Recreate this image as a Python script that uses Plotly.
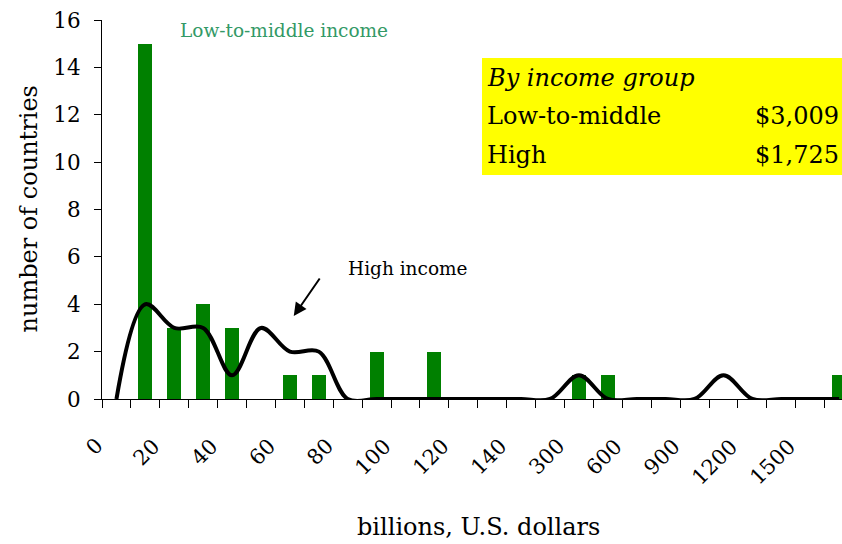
import plotly.graph_objects as go

# Bin boundary labels (every other bin boundary is labelled)
tick_labels = ["0", "20", "40", "60", "80", "100", "120", "140",
               "300", "600", "900", "1200", "1500"]
# Number of countries per bin (bins between consecutive tick marks)
low_mid_counts = [0, 15, 3, 4, 3, 0, 1, 1, 0, 2, 0, 2, 0, 0, 0, 0, 1, 1, 0, 0, 0, 0, 0, 0, 0, 1]
high_counts = [0, 4, 3, 3, 1, 3, 2, 2, 0, 0, 0, 0, 0, 0, 0, 0, 1, 0, 0, 0, 0, 1, 0, 0, 0, 0]
summary_labels = ["Low-to-middle", "High"]
summary_values = ["$3,009", "$1,725"]

n_bins = len(low_mid_counts)
bin_centers = [i + 0.5 for i in range(n_bins)]
tickvals = list(range(n_bins + 1))

FONT = "DejaVu Serif"
TICK = 21.5
XTICK = 21
BIG = 24
SMALL = 18.5

# plotting area in window pixels: x 102..842, y 20..399
PL, PT, PW, PH = 102, 20, 740, 379

def px(xw):
    return (xw - PL) / PW

def py(yw):
    return (PT + PH - yw) / PH

fig = go.Figure()
fig.add_trace(go.Bar(x=bin_centers, y=low_mid_counts, width=0.48,
                     marker=dict(color="#008000", line=dict(width=0)),
                     showlegend=False))
fig.add_trace(go.Scatter(x=bin_centers, y=high_counts, mode="lines",
                         line=dict(color="black", width=4, shape="spline", smoothing=1.0),
                         showlegend=False))

fig.update_layout(
    width=842, height=544,
    margin=dict(l=PL, r=842 - PL - PW, t=PT, b=544 - PT - PH, autoexpand=False),
    paper_bgcolor="white", plot_bgcolor="white",
    font=dict(family=FONT, color="black", size=BIG),
    bargap=0,
    xaxis=dict(range=[0, 25.6], tickvals=tickvals, ticktext=[""] * len(tickvals),
               ticks="outside", ticklen=8, tickcolor="black",
               showline=True, linecolor="black", linewidth=1, automargin=False,
               showgrid=False, zeroline=False),
    yaxis=dict(range=[0, 16], tickvals=list(range(0, 17, 2)),
               ticks="outside", ticklen=7, tickcolor="black", automargin=False,
               showline=True, linecolor="black", linewidth=1,
               showgrid=False, zeroline=False, ticklabelstandoff=9,
               ticklabeloverflow="allow",
               tickfont=dict(size=TICK, family=FONT)),
)

# x tick labels (rotated 45 degrees, ending at their tick mark)
for i, lab in enumerate(tick_labels):
    off = 5 * len(lab) + 3
    fig.add_annotation(text=lab, x=2 * i, xref="x", yref="paper", y=py(439),
                       xshift=-off, yshift=-off,
                       textangle=-45, showarrow=False, xanchor="center",
                       yanchor="middle", font=dict(size=XTICK))

# Axis titles
fig.add_annotation(text="number of countries", xref="paper", yref="paper",
                   x=px(28), y=0.5, textangle=-90, showarrow=False,
                   xanchor="center", yanchor="middle", font=dict(size=BIG))
fig.add_annotation(text="billions, U.S. dollars", xref="paper", yref="paper",
                   x=px(478), y=py(527), showarrow=False,
                   xanchor="center", yanchor="middle", font=dict(size=BIG))

# Series labels
fig.add_annotation(text="Low-to-middle income", xref="paper", yref="paper",
                   x=px(178), y=py(30), showarrow=False,
                   xanchor="left", yanchor="middle",
                   font=dict(size=SMALL, color="#339966"))
fig.add_annotation(text="High income", xref="paper", yref="paper",
                   x=px(346), y=py(268), showarrow=False,
                   xanchor="left", yanchor="middle", font=dict(size=SMALL))
fig.add_annotation(text="", x=(294 - 102.3) / 28.9, y=(399 - 316) / 23.69,
                   xref="x", yref="y", showarrow=True, arrowhead=2,
                   arrowsize=1.3, arrowwidth=2, arrowcolor="black",
                   ax=27, ay=-39)

# Yellow summary box
fig.add_shape(type="rect", xref="paper", yref="paper",
              x0=px(482), x1=1.0, y0=py(175), y1=py(58),
              fillcolor="#FFFF00", line=dict(width=0), layer="above")
fig.add_annotation(text="<i>By income group</i>", xref="paper", yref="paper",
                   x=px(485), y=py(78), showarrow=False,
                   xanchor="left", yanchor="middle", font=dict(size=BIG))
ys = [116, 155]
for lab, val, yy in zip(summary_labels, summary_values, ys):
    fig.add_annotation(text=lab, xref="paper", yref="paper",
                       x=px(485), y=py(yy), showarrow=False,
                       xanchor="left", yanchor="middle", font=dict(size=BIG))
    fig.add_annotation(text=val, xref="paper", yref="paper",
                       x=px(841), y=py(yy), showarrow=False,
                       xanchor="right", yanchor="middle", font=dict(size=BIG))

fig.write_html("out.html", config={"displayModeBar": False},
               post_script="document.body.style.margin='0';"
                           "document.body.style.overflow='hidden';")
